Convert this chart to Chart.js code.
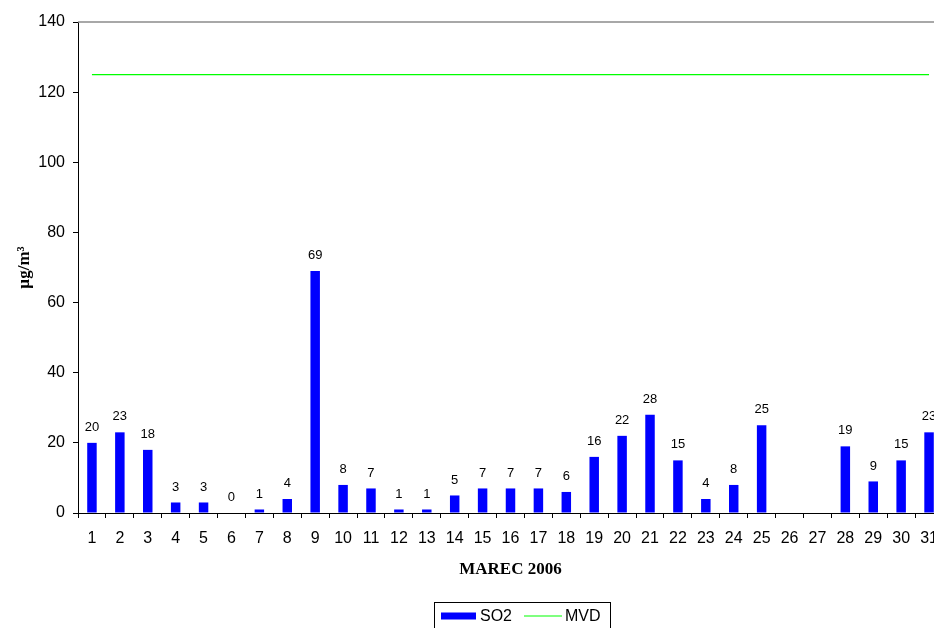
<!DOCTYPE html>
<html>
<head>
<meta charset="utf-8">
<title>SO2 – MAREC 2006</title>
<script src="https://cdn.jsdelivr.net/npm/chart.js@4"></script>
<style>
  html, body { margin: 0; padding: 0; background: #fff; overflow: hidden; }
  #wrap { width: 934px; height: 628px; overflow: hidden; position: relative; }
  canvas { display: block; }
</style>
</head>
<body>
<div id="wrap"><canvas id="c" width="960" height="628"></canvas></div>
<script>
// Days of March 2006
const days = ['1','2','3','4','5','6','7','8','9','10','11','12','13','14','15','16',
              '17','18','19','20','21','22','23','24','25','26','27','28','29','30','31'];
// Daily SO2 values (µg/m³); no measurement on days 26 and 27
const so2 = [20, 23, 18, 3, 3, 0, 1, 4, 69, 8, 7, 1, 1, 5, 7, 7,
             7, 6, 16, 22, 28, 15, 4, 8, 25, null, null, 19, 9, 15, 23];
// Limit value (MVD)
const mvdLevel = 125;
const mvd = days.map(() => mvdLevel);
// Y axis range
const yMin = 0, yMax = 140, yStep = 20;

const AXIS_FONT = { family: 'Liberation Sans, Arial, sans-serif', size: 16 };

// value labels above the bars
const valueLabels = {
  id: 'valueLabels',
  afterDatasetsDraw(chart) {
    const ctx = chart.ctx;
    const meta = chart.getDatasetMeta(0);
    const data = chart.data.datasets[0].data;
    ctx.save();
    ctx.font = '13px Liberation Sans, Arial, sans-serif';
    ctx.fillStyle = '#000';
    ctx.textAlign = 'center';
    ctx.textBaseline = 'bottom';
    meta.data.forEach((bar, i) => {
      const v = data[i];
      if (v === null || v === undefined) return;
      ctx.fillText(String(v), bar.x, bar.y - 9);
    });
    ctx.restore();
  }
};

// gray top border of the plot area and the boxed legend
const frameAndLegend = {
  id: 'frameAndLegend',
  afterDraw(chart) {
    const ctx = chart.ctx;
    const a = chart.chartArea;
    ctx.save();
    ctx.strokeStyle = '#8c8c8c';
    ctx.lineWidth = 1.5;
    ctx.beginPath();
    ctx.moveTo(a.left, a.top);
    ctx.lineTo(a.right, a.top);
    ctx.lineTo(a.right, a.bottom);
    ctx.stroke();

    // legend
    const ds = chart.data.datasets;
    const bx = 434.5, by = 602.5, bw = 176, bh = 30;
    ctx.strokeStyle = '#000';
    ctx.lineWidth = 1;
    ctx.strokeRect(bx, by, bw, bh);
    const cy = 616;
    ctx.font = '16px Liberation Sans, Arial, sans-serif';
    ctx.textBaseline = 'middle';
    ctx.textAlign = 'left';
    ctx.fillStyle = ds[0].backgroundColor;
    ctx.fillRect(441, cy - 3.5, 35, 7);
    ctx.fillStyle = '#000';
    ctx.fillText(ds[0].label, 480, cy + 1);
    ctx.strokeStyle = ds[1].borderColor;
    ctx.lineWidth = 1.2;
    ctx.beginPath();
    ctx.moveTo(524, cy);
    ctx.lineTo(562, cy);
    ctx.stroke();
    ctx.fillText(ds[1].label, 565, cy + 1);
    ctx.restore();
  }
};

new Chart(document.getElementById('c'), {
  data: {
    labels: days,
    datasets: [
      {
        type: 'bar',
        label: 'SO2',
        data: so2,
        backgroundColor: '#0000ff',
        borderWidth: 0,
        categoryPercentage: 1.0,
        barPercentage: 0.34,
        order: 2
      },
      {
        type: 'line',
        label: 'MVD',
        data: mvd,
        borderColor: '#00ff00',
        borderWidth: 1.3,
        pointRadius: 0,
        fill: false,
        tension: 0,
        order: 1
      }
    ]
  },
  options: {
    responsive: false,
    animation: false,
    events: [],
    layout: { padding: { top: 22, right: 17, bottom: 0, left: 0 } },
    plugins: {
      legend: { display: false },
      tooltip: { enabled: false }
    },
    scales: {
      x: {
        offset: true,
        grid: {
          offset: true,
          drawOnChartArea: false,
          drawTicks: true,
          tickLength: 5,
          color: '#000'
        },
        border: { color: '#000', width: 1 },
        ticks: {
          color: '#000',
          font: AXIS_FONT,
          padding: 11,
          maxRotation: 0,
          autoSkip: false
        },
        title: {
          display: true,
          text: 'MAREC 2006',
          color: '#000',
          font: { family: 'Liberation Serif, Times New Roman, serif', size: 17, weight: 'bold' },
          padding: { top: 0, bottom: 48 }
        },
        afterFit(scale) {
          scale.height = 115;
          scale.paddingLeft = 0;
          scale.paddingRight = 0;
        }
      },
      y: {
        min: yMin,
        max: yMax,
        ticks: {
          stepSize: yStep,
          color: '#000',
          font: AXIS_FONT,
          padding: 8
        },
        grid: {
          drawOnChartArea: false,
          drawTicks: true,
          tickLength: 5,
          color: '#000'
        },
        border: { color: '#000', width: 1 },
        title: {
          display: true,
          text: 'µg/m³',
          color: '#000',
          font: { family: 'Liberation Serif, Times New Roman, serif', size: 17, weight: 'bold' },
          padding: { top: 14, bottom: 0 }
        },
        afterFit(scale) {
          scale.width = 78;
          scale.paddingTop = 0;
          scale.paddingBottom = 0;
        }
      }
    }
  },
  plugins: [valueLabels, frameAndLegend]
});
</script>
</body>
</html>
